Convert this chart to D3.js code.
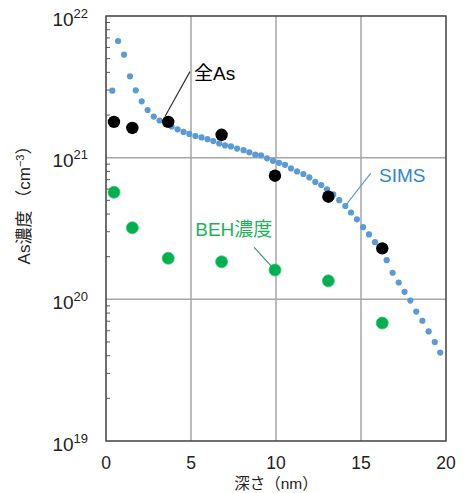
<!DOCTYPE html>
<html><head><meta charset="utf-8">
<script src="https://cdn.jsdelivr.net/npm/d3@7"></script>
<style>
html,body{margin:0;padding:0;background:#fff;}
svg{display:block;font-family:"Liberation Sans",Arial,"Noto Sans CJK JP",sans-serif;}
</style></head>
<body><svg id="c" width="464" height="493"></svg>
<script>
// ---- data ----
const simsDepth = [0.37,0.71,1.06,1.41,1.75,2.10,2.45,2.81,3.15,3.50,3.86,4.21,4.56,4.90,5.26,5.62,5.97,6.31,6.66,7.00,
  7.35,7.71,8.09,8.43,8.78,9.12,9.47,9.82,10.18,10.53,10.88,11.24,11.61,11.96,12.31,12.66,13.00,13.37,13.72,14.08,
  14.41,14.76,15.12,15.47,15.82,16.18,16.51,16.86,17.22,17.56,17.90,18.25,18.61,18.98,19.34,19.66];
const simsConc = [2.97e21,6.66e21,5.33e21,3.75e21,2.99e21,2.50e21,2.17e21,1.95e21,1.83e21,1.73e21,1.66e21,1.585e21,1.52e21,1.47e21,1.42e21,1.39e21,1.35e21,1.31e21,1.26e21,1.22e21,
  1.20e21,1.16e21,1.13e21,1.09e21,1.05e21,1.04e21,9.9e20,9.5e20,9.2e20,8.9e20,8.4e20,8.0e20,7.67e20,7.25e20,6.74e20,6.41e20,5.98e20,5.50e20,5.01e20,4.56e20,
  4.10e20,3.67e20,3.23e20,2.87e20,2.53e20,2.20e20,1.89e20,1.54e20,1.315e20,1.13e20,9.8e19,8.2e19,7.06e19,5.94e19,4.99e19,4.21e19];
const sampleDepth = [0.47,1.55,3.66,6.8,9.94,13.08,16.25];
const totalAs = [1.79e21,1.62e21,1.79e21,1.45e21,7.46e20,5.3e20,2.29e20];
const behConc = [5.7e20,3.2e20,1.95e20,1.84e20,1.61e20,1.35e20,6.8e19];
const xTicks = [0,5,10,15,20];
const yTickExp = [19,20,21,22];
// annotations: label, text anchor (depth,conc), leader line from/to (depth,conc)
const annoLabels = ["全As","SIMS","BEH濃度"];
const annoText = [[5.18,3.53e21],[16.06,6.76e20],[5.25,2.80e20]];
const annoLine = [[[4.94,4.05e21],[3.47,1.95e21]],[[15.57,7.76e20],[14.12,4.64e20]],[[8.71,2.33e20],[9.75,1.70e20]]];
const annoColor = ["#000000","#2f86d0","#1fb15a"];
const annoLineColor = ["#333333","#5b9bd5","#2f9a58"];

// ---- chart ----
const L=106,R=446,T=16,B=441;
const svg=d3.select("#c");
const x=d3.scaleLinear().domain([0,20]).range([L,R]);
const y=d3.scaleLog().domain([1e19,1e22]).range([B,T]);

// gridlines
svg.append("g").selectAll("line").data(xTicks.filter(d=>d>0&&d<20)).join("line")
  .attr("x1",d=>x(d)).attr("x2",d=>x(d)).attr("y1",T).attr("y2",B)
  .attr("stroke","#a6a6a6").attr("stroke-width",1.5);
svg.append("g").selectAll("line").data(yTickExp.filter(e=>e>19&&e<22)).join("line")
  .attr("x1",L).attr("x2",R).attr("y1",e=>y(Math.pow(10,e))).attr("y2",e=>y(Math.pow(10,e)))
  .attr("stroke","#a6a6a6").attr("stroke-width",1.5);

// minor ticks on left axis (inside)
const minor=[];
for(let e=19;e<22;e++) for(let m=2;m<=9;m++) minor.push(m*Math.pow(10,e));
svg.append("g").selectAll("line").data(minor).join("line")
  .attr("x1",L).attr("x2",L+4).attr("y1",d=>y(d)).attr("y2",d=>y(d))
  .attr("stroke","#595959").attr("stroke-width",1);

// frame
svg.append("rect").attr("x",L).attr("y",T).attr("width",R-L).attr("height",B-T)
  .attr("fill","none").attr("stroke","#404040").attr("stroke-width",1.5);

// x tick labels
svg.append("g").selectAll("text").data(xTicks).join("text")
  .attr("x",d=>x(d)).attr("y",469).attr("text-anchor","middle")
  .attr("font-size",17.5).attr("fill","#222").text(d=>d);

// y tick labels
const yl=svg.append("g").selectAll("text").data(yTickExp).join("text")
  .attr("x",88).attr("y",e=>y(Math.pow(10,e))+9.5).attr("text-anchor","end").attr("fill","#222");
yl.append("tspan").attr("font-size",19).text("10");
yl.append("tspan").attr("font-size",13).attr("dy",-8).text(e=>e);

// axis titles
svg.append("text").attr("x",(L+R)/2).attr("y",488.5).attr("text-anchor","middle")
  .attr("font-size",15.5).attr("fill","#222")
  .attr("font-family","'Liberation Sans','Noto Sans CJK JP',sans-serif").text("深さ（nm）");
const yt=svg.append("text").attr("transform","translate(30,201) rotate(-90)")
  .attr("text-anchor","middle").attr("font-size",17).attr("fill","#222");
yt.append("tspan").attr("font-family","'Liberation Sans',Arial,sans-serif").text("As");
yt.append("tspan").attr("font-family","'Noto Sans CJK JP',sans-serif").text("濃度 （");
yt.append("tspan").attr("font-family","'Liberation Sans',Arial,sans-serif").text("cm");
yt.append("tspan").attr("font-family","'Liberation Sans',Arial,sans-serif").attr("font-size",11).attr("dy",-6).text("−3");
yt.append("tspan").attr("font-family","'Noto Sans CJK JP',sans-serif").attr("dy",6).text("）");

// SIMS dots
svg.append("g").selectAll("circle").data(simsDepth).join("circle")
  .attr("cx",d=>x(d)).attr("cy",(d,i)=>y(simsConc[i])).attr("r",3.1).attr("fill","#5b9bd5");

// BEH dots
svg.append("g").selectAll("circle").data(sampleDepth).join("circle")
  .attr("cx",d=>x(d)).attr("cy",(d,i)=>y(behConc[i])).attr("r",6).attr("fill","#00b050")
  .attr("stroke","#33c46e").attr("stroke-width",0.8);

// total As dots
svg.append("g").selectAll("circle").data(sampleDepth).join("circle")
  .attr("cx",d=>x(d)).attr("cy",(d,i)=>y(totalAs[i])).attr("r",6.2).attr("fill","#000");

// annotations
annoLabels.forEach((lab,i)=>{
  const ln=annoLine[i];
  svg.append("line").attr("x1",x(ln[0][0])).attr("y1",y(ln[0][1])).attr("x2",x(ln[1][0])).attr("y2",y(ln[1][1]))
    .attr("stroke",annoLineColor[i]).attr("stroke-width",1.2);
  svg.append("text").attr("x",x(annoText[i][0])).attr("y",y(annoText[i][1]))
    .attr("font-size",19).attr("fill",annoColor[i]).text(lab);
});
</script></body></html>
